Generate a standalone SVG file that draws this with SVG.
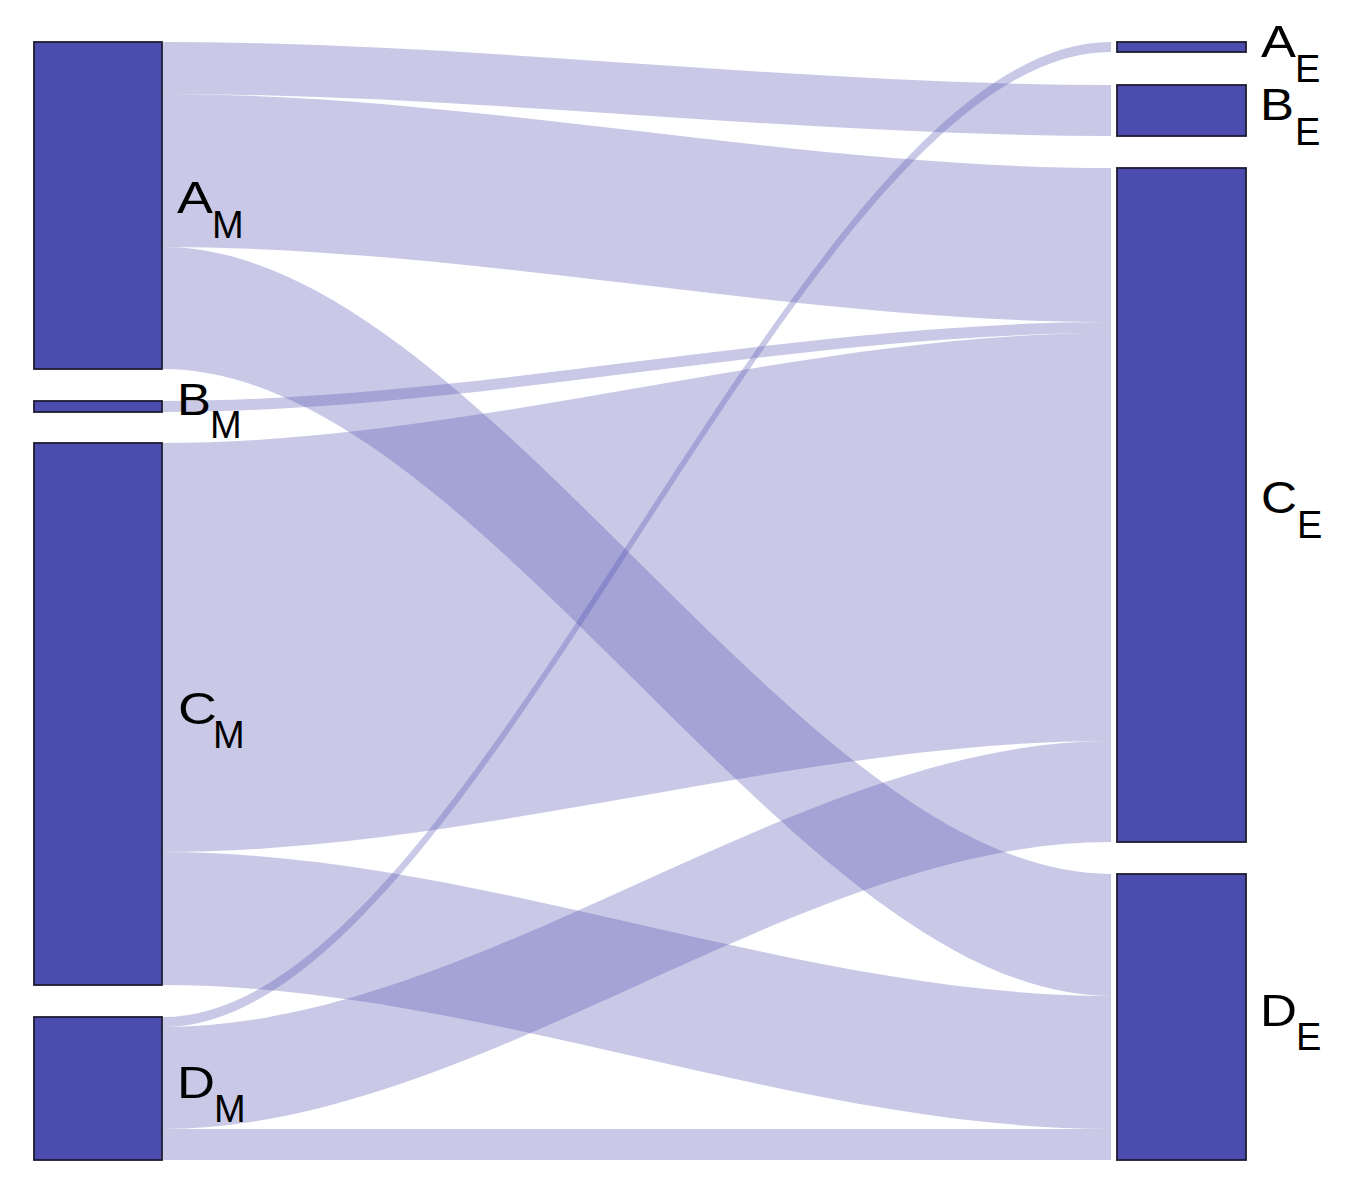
<svg xmlns="http://www.w3.org/2000/svg" width="1362" height="1196" viewBox="0 0 1362 1196">
<style>
.flow{fill:#4b4bae;fill-opacity:0.3;stroke:none}
.node{fill:#4c4caf;stroke:#1c1c30;stroke-width:1.8}
.lbl{font-family:"Liberation Sans",Arial,sans-serif;fill:#000}
.main{font-size:45px}
.sub{font-size:38px}
</style>
<rect x="0" y="0" width="1362" height="1196" fill="#ffffff"/>
<g id="connectors">
<path class="flow" d="M163,42 C479,42 795,85 1111,85 L1111,136 C795,136 479,94 163,94 Z"/>
<path class="flow" d="M163,94 C479,94 795,168 1111,168 L1111,322 C795,322 479,247 163,247 Z"/>
<path class="flow" d="M163,247 C479,247 795,874 1111,874 L1111,996 C795,996 479,369 163,369 Z"/>
<path class="flow" d="M163,401 C479,401 795,322 1111,322 L1111,333 C795,333 479,412 163,412 Z"/>
<path class="flow" d="M163,443 C479,443 795,333 1111,333 L1111,741 C795,741 479,852 163,852 Z"/>
<path class="flow" d="M163,852 C479,852 795,996 1111,996 L1111,1129 C795,1129 479,985 163,985 Z"/>
<path class="flow" d="M163,1017 C479,1017 795,42 1111,42 L1111,52 C795,52 479,1027 163,1027 Z"/>
<path class="flow" d="M163,1027 C479,1027 795,741 1111,741 L1111,842 C795,842 479,1129 163,1129 Z"/>
<path class="flow" d="M163,1129 C479,1129 795,1129 1111,1129 L1111,1160 C795,1160 479,1160 163,1160 Z"/>
</g>
<g id="node-AM">
<rect class="node" x="34" y="42" width="128" height="327"/>
<text class="lbl" x="177" y="213"><tspan class="main" textLength="36" lengthAdjust="spacingAndGlyphs">A</tspan></text>
<text class="lbl sub" x="212" y="238">M</text>
</g>
<g id="node-BM">
<rect class="node" x="34" y="401" width="128" height="11"/>
<text class="lbl" x="177" y="415"><tspan class="main" textLength="34" lengthAdjust="spacingAndGlyphs">B</tspan></text>
<text class="lbl sub" x="210" y="438">M</text>
</g>
<g id="node-CM">
<rect class="node" x="34" y="443" width="128" height="542"/>
<text class="lbl" x="178" y="724"><tspan class="main" textLength="39" lengthAdjust="spacingAndGlyphs">C</tspan></text>
<text class="lbl sub" x="213" y="748">M</text>
</g>
<g id="node-DM">
<rect class="node" x="34" y="1017" width="128" height="143"/>
<text class="lbl" x="177" y="1098"><tspan class="main" textLength="38" lengthAdjust="spacingAndGlyphs">D</tspan></text>
<text class="lbl sub" x="214" y="1122">M</text>
</g>
<g id="node-AE">
<rect class="node" x="1117" y="42" width="129" height="10"/>
<text class="lbl" x="1261" y="57"><tspan class="main" textLength="35" lengthAdjust="spacingAndGlyphs">A</tspan></text>
<text class="lbl sub" x="1295" y="82">E</text>
</g>
<g id="node-BE">
<rect class="node" x="1117" y="85" width="129" height="51"/>
<text class="lbl" x="1260" y="120"><tspan class="main" textLength="34" lengthAdjust="spacingAndGlyphs">B</tspan></text>
<text class="lbl sub" x="1295" y="145">E</text>
</g>
<g id="node-CE">
<rect class="node" x="1117" y="168" width="129" height="674"/>
<text class="lbl" x="1261" y="513"><tspan class="main" textLength="36" lengthAdjust="spacingAndGlyphs">C</tspan></text>
<text class="lbl sub" x="1297" y="538">E</text>
</g>
<g id="node-DE">
<rect class="node" x="1117" y="874" width="129" height="286"/>
<text class="lbl" x="1260" y="1026"><tspan class="main" textLength="37" lengthAdjust="spacingAndGlyphs">D</tspan></text>
<text class="lbl sub" x="1296" y="1050">E</text>
</g>
</svg>
